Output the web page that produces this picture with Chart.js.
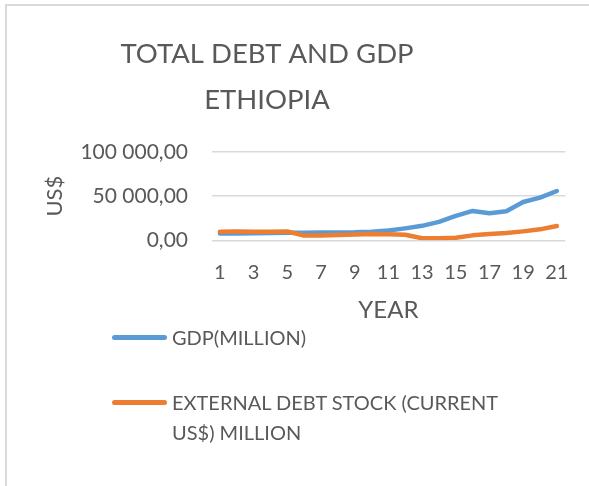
<!DOCTYPE html>
<html>
<head>
<meta charset="utf-8">
<title>Total debt and GDP Ethiopia</title>
<script src="https://cdn.jsdelivr.net/npm/chart.js"></script>
<style>
  html, body { margin: 0; padding: 0; background: #fff; }
  .wrap { position: relative; width: 589px; height: 486px; overflow: hidden; font-family: Lato, "Open Sans", sans-serif; }
  .frame { position: absolute; left: 5px; top: 4px; width: 700px; height: 600px;
           border-left: 2px solid #d9d9d9; border-top: 2px solid #d9d9d9; }
  canvas { position: absolute; left: 0; top: 0; }
  .legend { position: absolute; left: 112px; color: #595959; font-size: 20px; line-height: 30px; }
  .legend .key { position: absolute; left: 0; width: 55px; height: 5px; border-radius: 3px; }
  .legend .txt { position: absolute; left: 60px; white-space: nowrap; }
</style>
</head>
<body>
<div class="wrap">
  <div class="frame"></div>
  <canvas id="debtChart" width="589" height="486"></canvas>
  <div class="legend" style="top:322px">
    <span class="key" style="top:13px;background:#5b9bd5"></span>
    <span class="txt">GDP(MILLION)</span>
  </div>
  <div class="legend" style="top:387px">
    <span class="key" style="top:13px;background:#ed7d31"></span>
    <span class="txt">EXTERNAL DEBT STOCK (CURRENT<br>US$) MILLION</span>
  </div>
</div>
<script>
const years = ["1", "2", "3", "4", "5", "6", "7", "8", "9", "10", "11",
  "12", "13", "14", "15", "16", "17", "18", "19", "20", "21"];

// million US$
const gdp = [7700, 7800, 8000, 8300, 8500, 8600, 8700, 8800, 9000, 9700, 11000,
  13500, 16400, 20900, 27700, 33300, 30700, 32900, 43400, 48300, 55800];
const externalDebt = [9600, 9900, 9800, 9700, 9900, 5300, 5500, 5900, 6500, 7000, 6900,
  6300, 2300, 2300, 2900, 5600, 7100, 8200, 10100, 12400, 16100];

const yTicks = [0, 50000, 100000];
const titleLines = ["TOTAL DEBT AND GDP", "ETHIOPIA"];

const textColor = "#595959";

// 100000 -> "100 000,00"
function formatAmount(v) {
  const parts = Number(v).toFixed(2).split(".");
  return parts[0].replace(/\B(?=(\d{3})+(?!\d))/g, " ") + "," + parts[1];
}

// two-line heading, centred over the chart box
const headingPlugin = {
  id: "heading",
  afterDraw(chart) {
    const ctx = chart.ctx;
    ctx.save();
    ctx.fillStyle = textColor;
    ctx.font = "27.5px Lato";
    ctx.textAlign = "center";
    ctx.textBaseline = "alphabetic";
    ctx.fillText(titleLines[0], 267, 63);
    ctx.fillText(titleLines[1], 267, 109);
    ctx.restore();
  },
};

const ctx = document.getElementById("debtChart").getContext("2d");

const debtChart = new Chart(ctx, {
  type: "line",
  data: {
    labels: years,
    datasets: [
      {
        label: "GDP(MILLION)",
        data: gdp,
        borderColor: "#5b9bd5",
        backgroundColor: "#5b9bd5",
        borderWidth: 4.5,
        pointRadius: 0,
        tension: 0,
        borderCapStyle: "round",
        borderJoinStyle: "round",
        order: 1,
      },
      {
        label: "EXTERNAL DEBT STOCK (CURRENT US$) MILLION",
        data: externalDebt,
        borderColor: "#ed7d31",
        backgroundColor: "#ed7d31",
        borderWidth: 4.5,
        pointRadius: 0,
        tension: 0,
        borderCapStyle: "round",
        borderJoinStyle: "round",
        order: 0,
      },
    ],
  },
  options: {
    responsive: false,
    animation: false,
    layout: {
      padding: { top: 152, left: 40, right: 22.5, bottom: 161.6 },
    },
    plugins: {
      legend: { display: false },
      title: { display: false },
      tooltip: { enabled: false },
    },
    scales: {
      x: {
        type: "category",
        offset: true,
        grid: { display: false, drawTicks: false },
        border: { display: false },
        ticks: {
          color: textColor,
          font: { family: "Lato", size: 20 },
          padding: 20,
          autoSkip: false,
          maxRotation: 0,
          callback: (val, i) => (i % 2 === 0 ? years[i] : ""),
        },
        title: {
          display: true,
          text: "YEAR",
          color: textColor,
          font: { family: "Lato", size: 24 },
          padding: 0,
        },
        afterFit: (scale) => { scale.height = 84.1; },
      },
      y: {
        min: 0,
        max: 100000,
        afterBuildTicks: (scale) => { scale.ticks = yTicks.map((v) => ({ value: v })); },
        grid: { color: "#d9d9d9", lineWidth: 1.5, drawTicks: false },
        border: { display: false },
        ticks: {
          color: textColor,
          font: { family: "Lato", size: 21 },
          padding: 23.5,
          callback: (v) => formatAmount(v),
        },
        title: {
          display: true,
          text: "US$",
          color: textColor,
          font: { family: "Lato", size: 22 },
          padding: { top: 2, bottom: 0 },
        },
        afterFit: (scale) => { scale.width = 171.5; },
      },
    },
  },
  plugins: [headingPlugin],
});
</script>
</body>
</html>
